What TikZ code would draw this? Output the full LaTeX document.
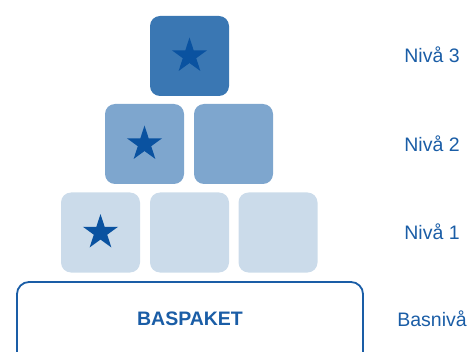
\documentclass[tikz,border=0pt]{standalone}
\usepackage{fontspec}
\setmainfont{Liberation Sans}
\usetikzlibrary{shapes.geometric}
\definecolor{levelthree}{HTML}{3A77B3}
\definecolor{leveltwo}{HTML}{7EA6CE}
\definecolor{levelone}{HTML}{CBDBEA}
\definecolor{starblue}{HTML}{0A52A0}
\definecolor{textblue}{HTML}{1A5DA6}

\begin{document}
\begin{tikzpicture}[x=1pt,y=1pt,
  box/.style={rounded corners=10pt,minimum width=79pt,minimum height=80pt,inner sep=0pt},
  starmark/.style={star,star points=5,star point ratio=2.618,minimum size=37pt,inner sep=0pt,fill=starblue},
  lvl/.style={text=textblue,font=\fontsize{19.5}{23}\selectfont}]
\useasboundingbox (0,0) rectangle (468,351);
\clip (0,0) rectangle (468,351);
% pyramid of level boxes
\node[box,fill=levelthree](b3)at(189.5,295){};
\node[box,fill=leveltwo](b2a)at(144.5,207){};
\node[box,fill=leveltwo](b2b)at(233.5,207){};
\node[box,fill=levelone](b1a)at(100.5,118.5){};
\node[box,fill=levelone](b1b)at(189.5,118.5){};
\node[box,fill=levelone](b1c)at(278,118.5){};
\node[starmark](s3)at(b3.center){};
\node[starmark](s2)at(b2a.center){};
\node[starmark](s1)at(b1a.center){};
% base package
\draw[textblue,line width=1.8pt,rounded corners=12pt](17,-30)rectangle(363,69);
\node[text=textblue,font=\fontsize{19.5}{23}\selectfont\bfseries](bas)at(190,32){BASPAKET};
% level labels
\node[lvl](n3)at(432,296){Nivå 3};
\node[lvl](n2)at(432,207){Nivå 2};
\node[lvl](n1)at(432,119){Nivå 1};
\node[lvl](n0)at(432,32){Basnivå};
\end{tikzpicture}
\end{document}
